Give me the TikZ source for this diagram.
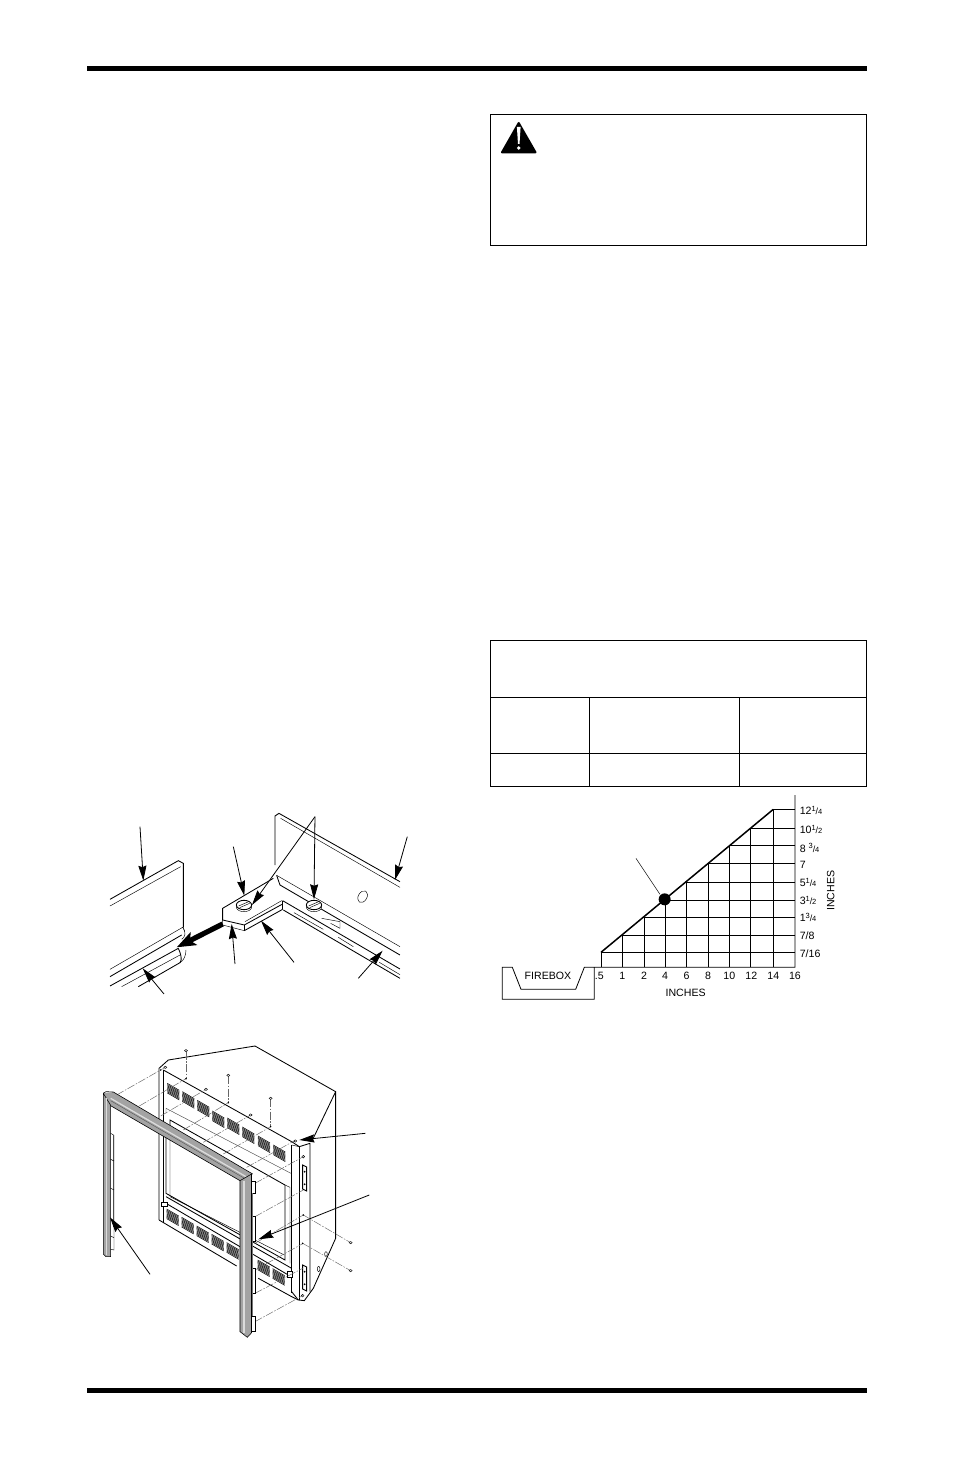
\documentclass[tikz,border=0pt]{standalone}
\usepackage{fontspec}
\setmainfont{Liberation Sans}
\usetikzlibrary{arrows.meta}
\tikzset{
 ptr/.style={line width=.8pt,-{Stealth[length=15pt,width=8pt,inset=1.5pt]}},
 thinl/.style={line width=.45pt},
 medl/.style={line width=.85pt},
 framel/.style={line width=.6pt},
 dashl/.style={line width=.45pt,black!60,dash pattern=on 8pt off 1.5pt on 1.5pt off 1.5pt},
 gridl/.style={line width=.8pt},
 tbl/.style={line width=.85pt},
 lab/.style={font=\fontsize{10.6}{12}\selectfont,inner sep=0pt},
 lou/.style={line width=.65pt,black!90},
 legfill/.style={fill=black!36,draw=black,line width=.55pt},
 stripe/.style={line width=1.3pt,black!14},
}
\newcommand{\frc}[2]{\raisebox{3.2pt}{\fontsize{7.5}{8}\selectfont #1}\kern-.1pt{\fontsize{9}{8}\selectfont /}\kern-.1pt{\fontsize{7.5}{8}\selectfont #2}}
\begin{document}
\begin{tikzpicture}[x=1pt,y=-1pt]
\useasboundingbox (0,0) rectangle (954,1474);
\fill[white] (0,0) rectangle (954,1474);
% rules
\fill (87,66.5) rectangle (867,71.5);
\fill (87,1387.5) rectangle (867,1392.5);
% warning box
\draw[tbl] (490.5,114.5) rectangle (866.5,245.5);
\fill[line join=round,draw,line width=2pt] (518.7,123) -- (502,152.3) -- (535.5,152.3) -- cycle;
\fill[white] (516.9,127) -- (520.6,127) -- (519.5,144) -- (518,144) -- cycle;
\fill[white] (518.7,148) circle (1.8);
% table
\draw[tbl] (490.5,640.5) rectangle (866.5,786.5);
\draw[tbl] (490.5,697.5) -- (866.5,697.5);
\draw[tbl] (490.5,753.5) -- (866.5,753.5);
\draw[tbl] (589.5,697.5) -- (589.5,786.5);
\draw[tbl] (739.5,697.5) -- (739.5,786.5);

% ---------- figure 1
\begin{scope}[shift={(90,800)},x=.3333pt,y=-.3333pt]
 % left panel
 \draw[medl] (60,298) -- (265,182) -- (280,190) -- (280,382);
 \draw[thinl] (60,318) -- (272,200);
 \draw[thinl] (60,508) -- (278,382) .. controls (290,398) and (285,412) .. (275,418);
 \draw[thinl] (280,382) -- (284,395);
 \draw[medl] (60,530) -- (275,405);
 \draw[medl] (60,558) -- (265,445);
 \draw[thinl] (95,560) -- (270,465);
 \draw[medl] (145,560) -- (270,488) .. controls (278,480) and (272,460) .. (265,445);
 \draw[thinl] (270,488) .. controls (282,482) and (288,465) .. (288,450);
 % right panel
 \draw[medl] (555,195) -- (555,48) -- (567,40) -- (930,245);
 \draw[thinl] (572,55) -- (930,262);
 \draw[thinl] (560,226) -- (930,440);
 \draw[medl] (560,226) -- (570,255) -- (930,465);
 % bracket
 \draw[medl] (550,235) -- (398,325) -- (398,360) -- (463,375) -- (578,312);
 \draw[thinl] (398,360) -- (398,375) -- (463,392);
 \draw[thinl] (463,375) -- (463,392);
 \draw[thinl] (465,365) -- (575,302);
 \draw[medl] (463,392) -- (578,328);
 \draw[thinl] (578,302) -- (578,328);
 \draw[medl] (578,302) -- (930,507);
 \draw[medl] (580,330) -- (930,535);
 \draw[thinl] (612,338) -- (700,388);
 \draw[thinl] (745,412) -- (790,440);
 \draw[thinl] (868,487) -- (930,524);
 % small tab
 \draw[thinl] (695,355) -- (750,365) -- (750,385) -- (722,370);
 % hole
 \draw[thinl,rotate around={-30:(818,290)}] (818,290) ellipse [x radius=13,y radius=19];
 % screws
 \foreach \cx/\cy in {462/315,672/315}{
  \fill[white] (\cx-23,\cy) -- (\cx-23,\cy+8) .. controls (\cx-18,\cy+24) and (\cx+18,\cy+24) .. (\cx+23,\cy+8) -- (\cx+23,\cy) -- cycle;
  \draw[thinl] (\cx-23,\cy) -- (\cx-23,\cy+8) .. controls (\cx-18,\cy+24) and (\cx+18,\cy+24) .. (\cx+23,\cy+8) -- (\cx+23,\cy);
  \fill[white] (\cx,\cy) ellipse [x radius=23,y radius=14];
  \draw[medl] (\cx,\cy) ellipse [x radius=23,y radius=14];
  \draw[thinl] (\cx-16,\cy+3) -- (\cx+14,\cy-10);
  \draw[thinl] (\cx-13,\cy+8) -- (\cx+17,\cy-5);
 }
 % pointers
 \draw[ptr] (150,80) -- (160,242);
 \draw[ptr] (430,140) -- (463,287);
 \draw[ptr] (675,50) -- (486,315);
 \draw[ptr] (675,50) -- (672,298);
 \draw[ptr] (952,110) -- (915,240);
 \draw[ptr] (435,492) -- (425,372);
 \draw[ptr] (612,487) -- (513,362);
 \draw[ptr] (805,535) -- (878,452);
 \draw[ptr] (222,582) -- (158,505);
 % bold arrow
 \draw[line width=5.2pt,-{Stealth[length=19pt,width=14pt,inset=4pt]}] (398,372) -- (260,442);
\end{scope}

% ---------- figure 2
\begin{scope}[shift={(90,1030)},x=.3333pt,y=-.3333pt]
 % housing
 \draw[medl] (207,570) -- (207,115) -- (235,90) -- (495,48) -- (737,185) -- (737,625) -- (670,775) -- (643,812) -- (625,810) -- (605,785);
 \draw[medl] (737,185) -- (665,335);
 \draw[medl] (220,120) -- (605,335);
 \draw[medl] (220,120) -- (220,580);
 \draw[medl] (207,570) -- (440,708);
 \draw[medl] (505,745) -- (605,800) -- (625,810);
 \draw[medl] (605,345) -- (605,790);
 \draw[medl] (605,335) -- (628,350) -- (660,340) -- (660,785);
 \draw[medl] (628,350) -- (628,810);
 \draw[thinl] (605,345) -- (628,350);
 % slots
 \foreach \yy in {405,705}{
  \draw[medl,fill=white] (638,\yy) -- (650,\yy+6) -- (650,\yy+78) -- (638,\yy+72) -- cycle;
  \fill (644,\yy+20) circle (3);
  \fill (644,\yy+58) circle (3);
 }
 \draw[thinl] (640,380) circle (4);
 \draw[thinl] (638,797) circle (4);
 \draw[thinl] (686,717) ellipse [x radius=4,y radius=8];
 \draw[thinl] (708,672) ellipse [x radius=4,y radius=7];
 % top louvers
 \foreach \px/\py in {232/160,277/185,322/211,367/243,412/264,457/291,504/318,550/345}{
   \foreach \k in {0,3.6,...,32} {\draw[lou] (\px,\py+\k) -- ++(36,21);}
 }
 % bottom louvers
 \foreach \px/\py in {230/537,275/562,320/588,365/613,410/638}{
   \foreach \k in {0,3.6,...,29} {\draw[lou] (\px,\py+\k) -- ++(36,21);}
 }
 \foreach \px/\py in {503/690,548/716}{
   \foreach \k in {0,3.6,...,29} {\draw[lou] (\px,\py+\k) -- ++(36,21);}
 }
 % window
 \draw[thinl,black!70] (228,250) -- (228,235) -- (603,430);
 \draw[medl] (240,330) -- (240,270) -- (585,465) -- (585,690) -- (228,490) -- (228,320);
 \draw[thinl] (240,330) -- (240,500) -- (583,675);
 \draw[thinl] (585,465) -- (600,472) -- (600,700);
 \draw[medl] (228,500) -- (605,715);
 \draw[medl] (228,520) -- (600,738);
 \draw[thinl,fill=white] (215,518) rectangle (232,530);
 \draw[thinl,fill=white] (592,725) rectangle (606,743);
 % dashed and screws
 \foreach \ax/\ay/\bx/\by in {
   80/195/226/112, 148/228/288/146, 212/258/348/178,
   280/300/415/218, 340/337/482/255, 400/372/542/290, 470/412/612/333,
   495/460/640/380, 495/560/640/480, 495/640/640/555, 495/720/640/640,
   495/790/638/715, 495/875/638/797}{
   \draw[dashl] (\ax,\ay) -- (\bx,\by);
 }
 \draw[dashl] (640,555) -- (782,638);
 \draw[dashl] (638,640) -- (782,722);
 \draw[dashl] (288,65) -- (288,146);
 \draw[dashl] (415,138) -- (415,218);
 \draw[dashl] (542,207) -- (542,290);
 \foreach \sx/\sy in {288/62,415/136,542/205,226/112,348/178,482/255,782/638,782/722,616/333}{
  \draw[thinl,fill=white] (\sx,\sy) ellipse [x radius=4.5,y radius=3.5];
 }
 \foreach \sx/\sy in {288/146,415/218,542/290,640/555,638/640,212/120}{\fill (\sx,\sy) circle (2.5);}
 % frame top band
 \fill[black!36] (40,190) -- (70,186) -- (488,432) -- (450,452) -- (60,226) -- cycle;
 \draw[stripe] (62,205) -- (468,440);
 \draw[line width=.45pt,black!65] (62,212) -- (465,446);
 \draw[framel] (40,190) -- (48,185) -- (70,186) -- (488,432);
 \draw[framel] (60,226) -- (450,452);
 % left leg
 \fill[legfill] (40,190) -- (40,672) -- (48,680) -- (62,680) -- (62,226) -- cycle;
 \draw[stripe] (50,205) -- (50,676);
 % strip behind left leg
 \draw[thinl] (62,310) -- (72,316) -- (72,660) -- (62,658);
 \draw[line width=.9pt,black!70] (70,316) -- (70,590);
 \draw[thinl] (62,388) -- (72,393);
 \draw[thinl] (62,475) -- (72,480);
 \draw[thinl] (62,618) -- (72,623);
 % right leg tabs
 \foreach \ya/\yb in {455/490,558/635,715/790,858/905}{
  \draw[thinl,fill=white] (485,\ya) rectangle (497,\yb);
 }
 \fill[black!55] (485,490) rectangle (489,858);
 % right leg
 \fill[legfill] (450,452) -- (450,905) -- (472,922) -- (485,908) -- (485,432) -- cycle;
 \draw[stripe] (462,452) -- (462,908);
 \draw[line width=.9pt] (485,432) -- (485,908);
 % pointers
 \draw[ptr] (826,310) -- (628,330);
 \draw[ptr] (838,495) -- (505,628);
 \draw[ptr] (180,733) -- (60,562);
\end{scope}

% ---------- chart
\begin{scope}[shift={(490,795)},x=.3333pt,y=-.3333pt]
 \foreach \yy/\xx in {43/850,100/782,152/718,205/654,262/589,315/525,367/462,422/397,472/333}{
  \draw[gridl] (\xx,\yy) -- (915,\yy);
 }
 \foreach \xx/\yy in {333/472,397/422,462/367,525/315,589/262,654/205,718/152,782/100,850/43}{
  \draw[gridl] (\xx,\yy) -- (\xx,517);
 }
 \draw[gridl] (915,0) -- (915,517) -- (283,517) -- (257,583) -- (93,583) -- (67,517) -- (37,517) -- (37,613) -- (313,613) -- (313,517);
 \draw[line width=1.5pt] (333,472) -- (850,43);
 \draw[line width=.5pt] (438,190) -- (510,298);
 \fill (524,313) circle (18);
 \node[lab] (fb) at (174,543) {FIREBOX};
 \node[lab] (xh) at (587,593) {INCHES};
 \node[lab,rotate=90] (yh) at (1022,287) {INCHES};
 \foreach \xx/\t in {328/.5,397/1,462/2,525/4,590/6,654/8,718/10,784/12,850/14,915/16}{
  \node[lab,anchor=base] at (\xx,555) {\t};
 }
 \node[lab,anchor=base west] at (929,59) {12\frc{1}{4}};
 \node[lab,anchor=base west] at (929,116) {10\frc{1}{2}};
 \node[lab,anchor=base west] at (929,171) {8 \frc{3}{4}};
 \node[lab,anchor=base west] at (929,219) {7};
 \node[lab,anchor=base west] at (929,275) {5\frc{1}{4}};
 \node[lab,anchor=base west] at (929,328) {3\frc{1}{2}};
 \node[lab,anchor=base west] at (929,379) {1\frc{3}{4}};
 \node[lab,anchor=base west] at (929,435) {7/8};
 \node[lab,anchor=base west] at (929,488) {7/16};
\end{scope}
\end{tikzpicture}
\end{document}
